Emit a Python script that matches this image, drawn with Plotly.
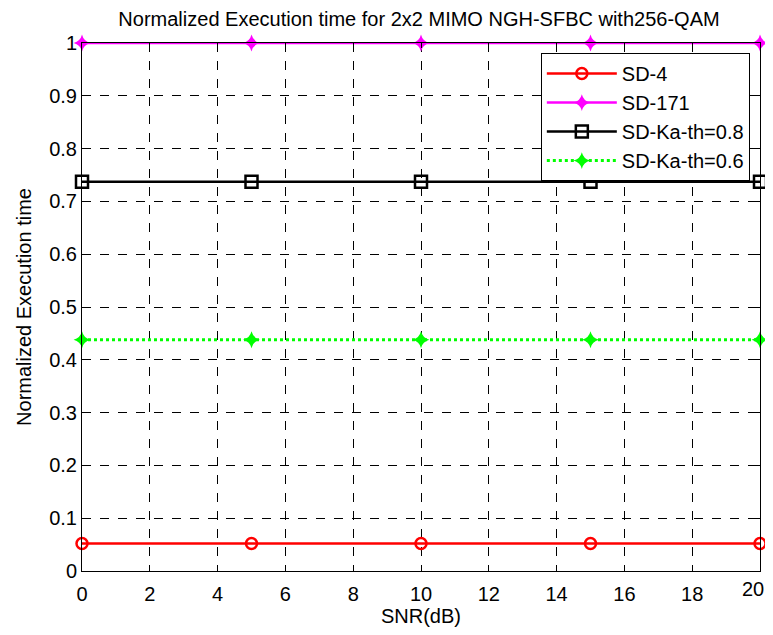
import plotly.graph_objects as go

snr = [0, 5, 10, 15, 20]
sd4 = [0.052, 0.052, 0.052, 0.052, 0.052]
sd171 = [1.0, 1.0, 1.0, 1.0, 1.0]
sd_ka08 = [0.737, 0.737, 0.737, 0.737, 0.737]
sd_ka06 = [0.438, 0.438, 0.438, 0.438, 0.438]

x_ticks = list(range(0, 21, 2))
y_ticks = [round(i * 0.1, 1) for i in range(11)]
y_tick_labels = ["0", "0.1", "0.2", "0.3", "0.4", "0.5", "0.6", "0.7", "0.8", "0.9", "1"]

fig = go.Figure()
fig.add_trace(go.Scatter(x=snr, y=sd4, name="SD-4", mode="lines+markers",
                         line=dict(color="#ff0000", width=2.5),
                         marker=dict(symbol="circle-open", size=11, color="#ff0000",
                                     line=dict(width=2.5, color="#ff0000")),
                         cliponaxis=False))
fig.add_trace(go.Scatter(x=snr, y=sd171, name="SD-171", mode="lines+markers",
                         line=dict(color="#ff00ff", width=2.5),
                         marker=dict(symbol="star-diamond", size=12, color="#ff00ff"),
                         cliponaxis=False))
fig.add_trace(go.Scatter(x=snr, y=sd_ka08, name="SD-Ka-th=0.8", mode="lines+markers",
                         line=dict(color="#000000", width=2.5),
                         marker=dict(symbol="square-open", size=12, color="#000000",
                                     line=dict(width=2.5, color="#000000")),
                         cliponaxis=False))
fig.add_trace(go.Scatter(x=snr, y=sd_ka06, name="SD-Ka-th=0.6", mode="lines+markers",
                         line=dict(color="#00ff00", width=3, dash="dot"),
                         marker=dict(symbol="star-diamond", size=12, color="#00ff00"),
                         cliponaxis=False))

font = "Arial, Liberation Sans, sans-serif"
W, H = 757, 619
fig.update_layout(
    width=W, height=H,
    paper_bgcolor="white", plot_bgcolor="white",
    margin=dict(l=74, r=4, t=35, b=50),
    title=dict(text="Normalized Execution time for 2x2 MIMO NGH-SFBC with256-QAM",
               x=411 / W, xanchor="center", y=1 - 11 / H, yanchor="middle",
               font=dict(family=font, size=20, color="#000000")),
    font=dict(family=font, size=20, color="#000000"),
    showlegend=True,
    legend=dict(x=0.985, xanchor="right", y=0.981, yanchor="top",
                bordercolor="#000000", borderwidth=1, bgcolor="white",
                font=dict(family=font, size=20, color="#000000"),
                tracegroupgap=0, itemwidth=70),
    xaxis=dict(range=[0, 20], tickvals=x_ticks, showgrid=True,
               gridcolor="#000000", griddash="dash", gridwidth=1,
               showline=True, linecolor="#000000", linewidth=1, mirror="ticks",
               ticks="inside", ticklen=5, tickcolor="#000000", zeroline=False,
               ticklabelstandoff=5,
               title=dict(text="SNR(dB)", font=dict(size=20), standoff=4),
               tickfont=dict(size=20)),
    yaxis=dict(range=[0, 1], tickvals=y_ticks, ticktext=y_tick_labels, showgrid=True,
               gridcolor="#000000", griddash="dash", gridwidth=1,
               showline=True, linecolor="#000000", linewidth=1, mirror="ticks",
               ticks="inside", ticklen=5, tickcolor="#000000", zeroline=False,
               title=dict(text="Normalized Execution time", font=dict(size=20), standoff=12),
               tickfont=dict(size=20)),
)

# last x tick label (hidden by plotly because it touches the page edge)
fig.add_annotation(text=str(x_ticks[-1]), xref="x", yref="y", x=x_ticks[-1], y=0,
                   xanchor="center", yanchor="middle", xshift=-7, yshift=-18,
                   showarrow=False, font=dict(family=font, size=20, color="#000000"))

fig.write_html("out.html", config={"displayModeBar": False})
